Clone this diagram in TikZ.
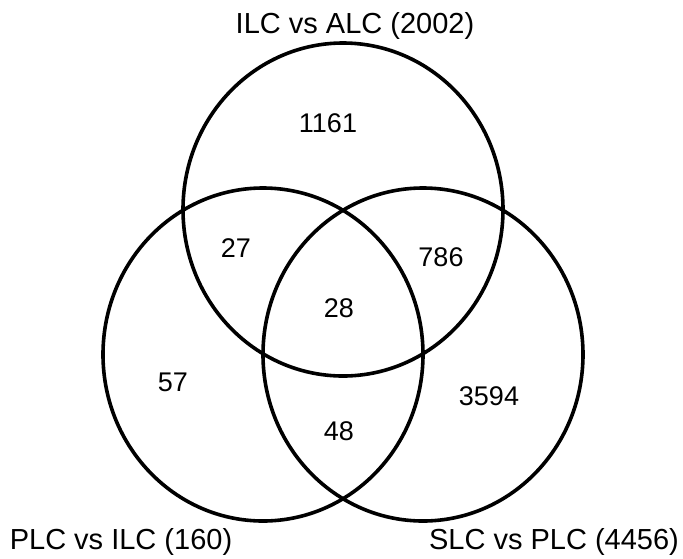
\documentclass[tikz,border=0pt]{standalone}
\usepackage{fontspec}
\setmainfont{Liberation Sans}
\usetikzlibrary{shapes.geometric}

\begin{document}
\begin{tikzpicture}[x=1pt,y=-1pt,
    set/.style={draw,ellipse,line width=3.6pt,inner sep=0pt,
                minimum width=320pt,minimum height=333pt},
    count/.style={font=\fontsize{27}{32}\selectfont,inner sep=0pt},
    setname/.style={font=\fontsize{29}{34}\selectfont,inner sep=0pt,anchor=base}]

        \useasboundingbox (0,0) rectangle (683,558);

        % the three sets
        \node[set]  (S01) at (343,209.5) { };
        \node[set]  (S02) at (263,354.5) { };
        \node[set]  (S03) at (423,354.5) { };

        % set names
        \node[setname]  (N01) at (355,33)  {ILC vs ALC (2002)};
        \node[setname]  (N02) at (121,549) {PLC vs ILC (160)};
        \node[setname]  (N03) at (554,549) {SLC vs PLC (4456)};

        % region counts
        \node[count]  (C01) at (328,123) {1161};
        \node[count]  (C02) at (236,248) {27};
        \node[count]  (C03) at (441,257) {786};
        \node[count]  (C04) at (339,308) {28};
        \node[count]  (C05) at (173,382) {57};
        \node[count]  (C06) at (489,396) {3594};
        \node[count]  (C07) at (339,431) {48};
\end{tikzpicture}
\end{document}
